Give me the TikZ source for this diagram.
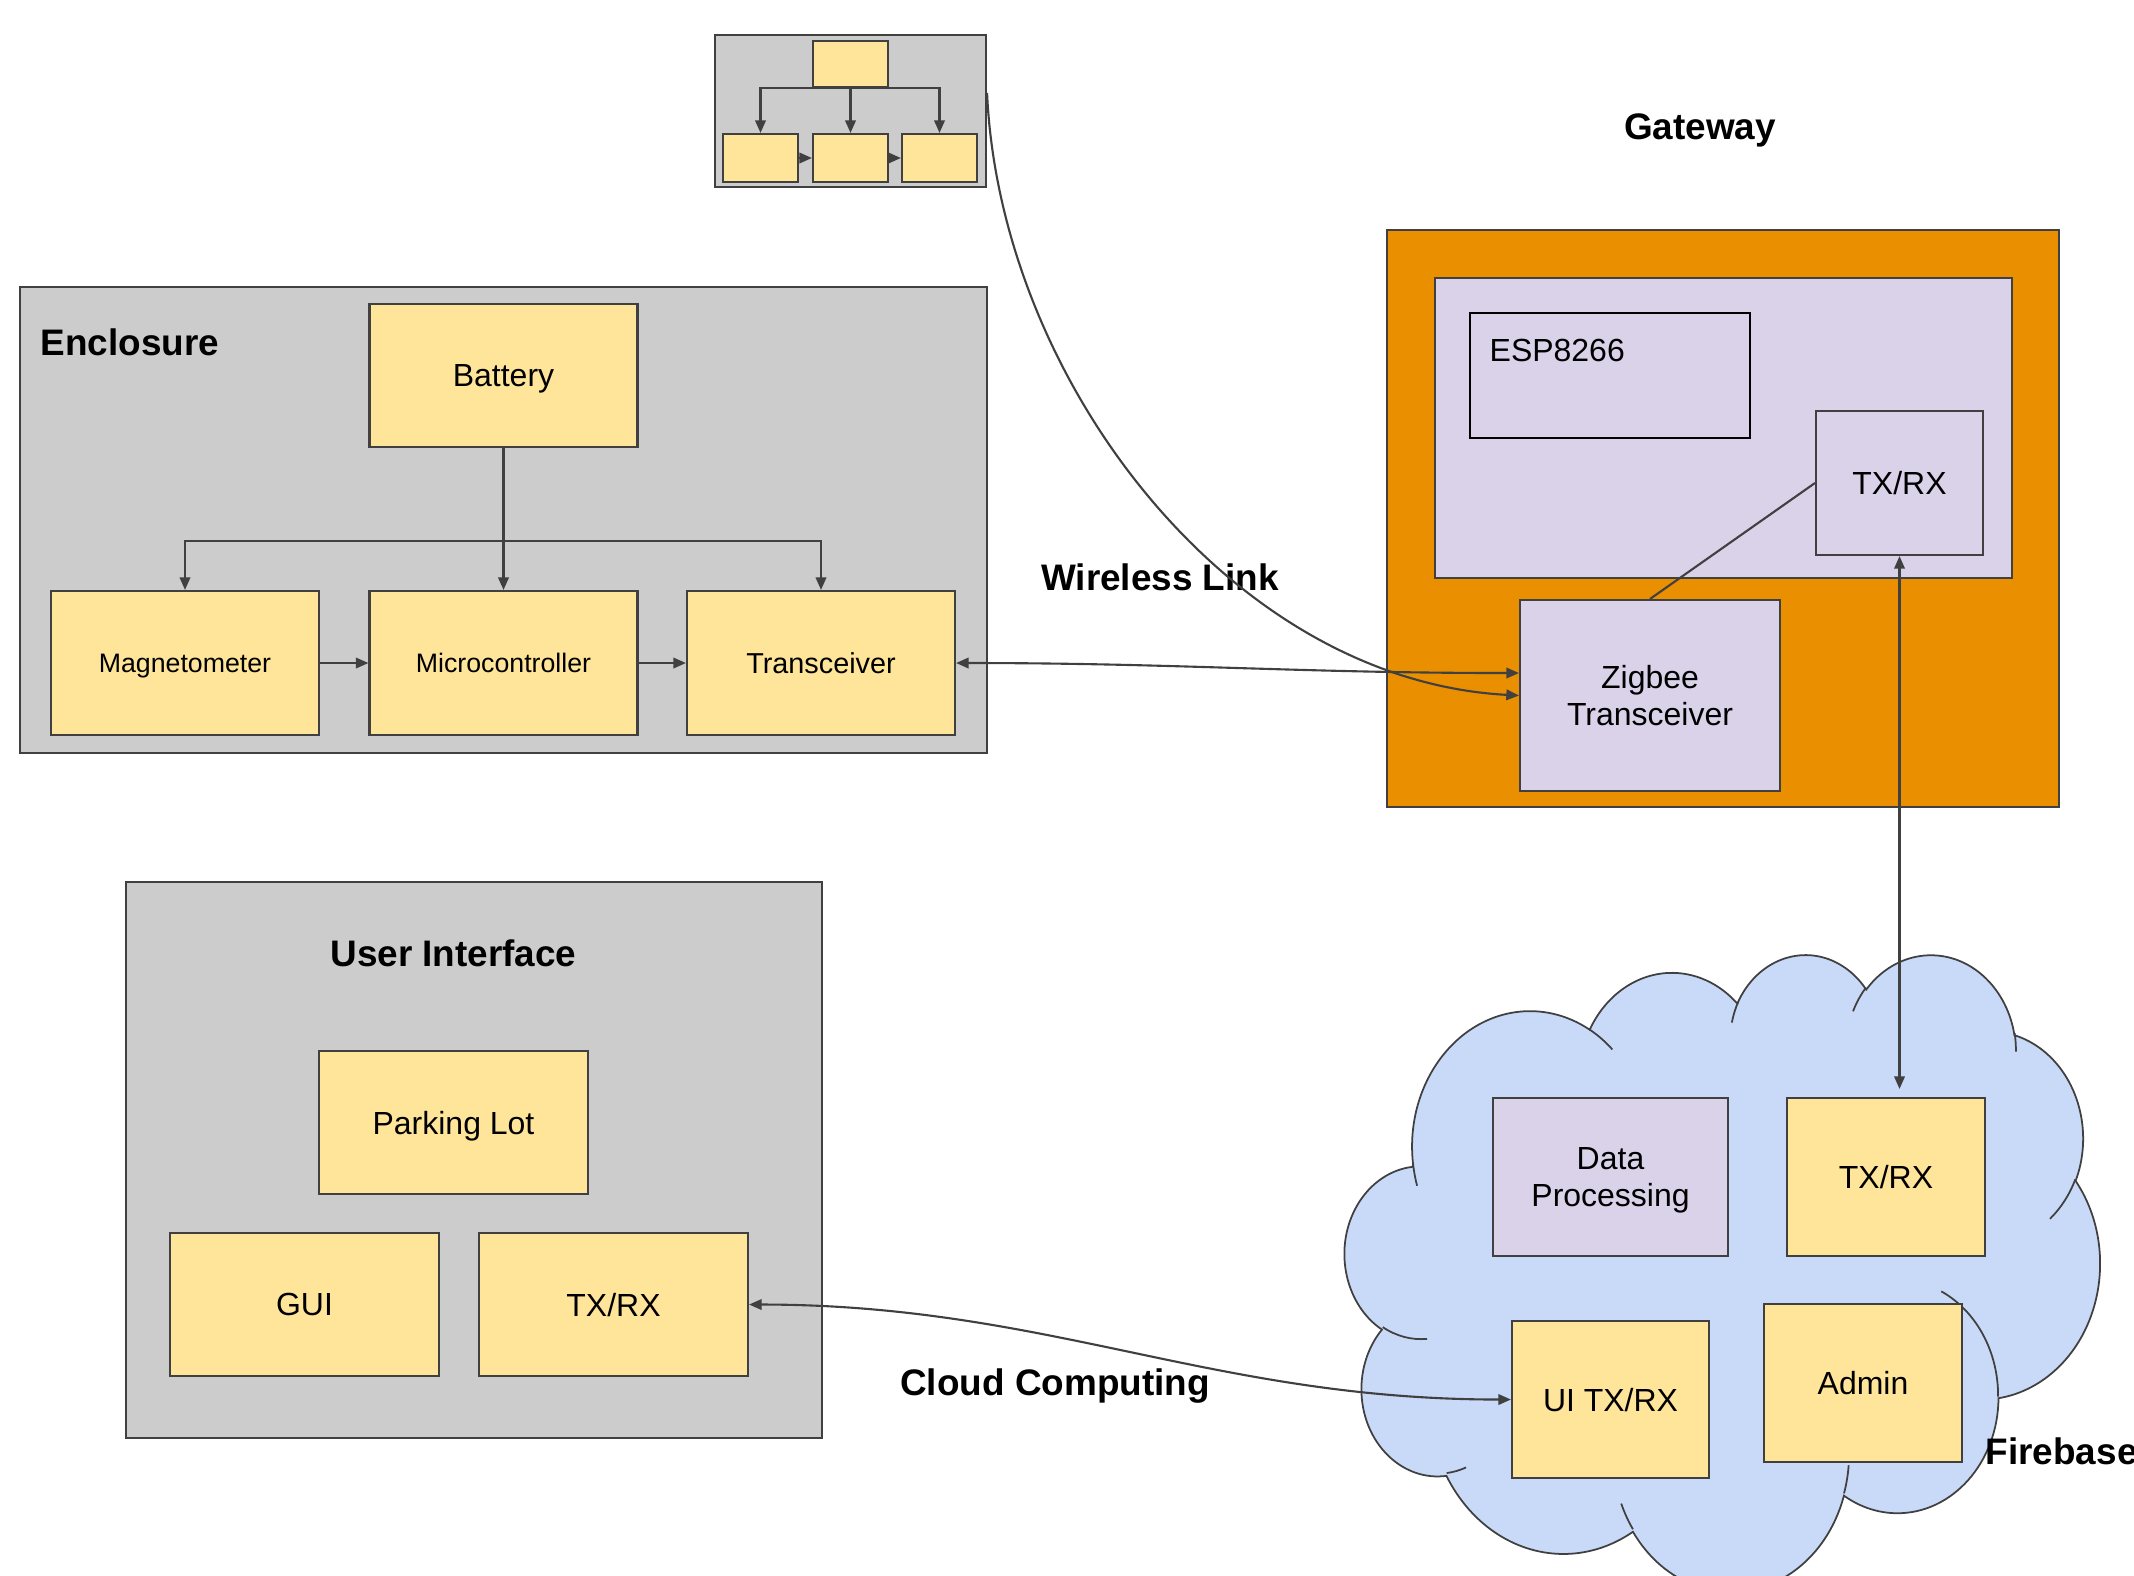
\documentclass[tikz,border=0pt]{standalone}
\usepackage{fontspec}
\setmainfont{Liberation Sans}
\usepackage{tikz}
\usepackage{xcolor}
\usetikzlibrary{arrows.meta,calc}
\definecolor{linegray}{HTML}{404040}
\definecolor{panelgray}{HTML}{CCCCCC}
\definecolor{boxyellow}{HTML}{FFE599}
\definecolor{lavender}{HTML}{D9D2E9}
\definecolor{gworange}{HTML}{EA8F00}
\definecolor{cloudblue}{HTML}{C9DAF8}
\newcommand{\lblfont}{\fontsize{9.1}{10.6}\selectfont}
\newcommand{\smlfont}{\fontsize{7.6}{9}\selectfont}
\newcommand{\hdfont}{\bfseries\fontsize{10.5}{12}\selectfont}
% one arc of the cloud outline: radii, start angle, sweep (angles seen from the centre)
\newcommand{\cloudarc}[4]{arc[x radius=#1, y radius=#2,
  start angle={atan2(#1*sin(#3),#2*cos(#3))+360*round((#3-atan2(#1*sin(#3),#2*cos(#3)))/360)},
  end angle={atan2(#1*sin(#3+#4),#2*cos(#3+#4))+360*round((#3+#4-atan2(#1*sin(#3+#4),#2*cos(#3+#4)))/360)}]}

\begin{document}
\begin{tikzpicture}[x=1cm, y=-1cm, >={Triangle[length=3.6pt,width=3pt]},
    block/.style={draw=linegray, line width=0.6pt, fill=boxyellow, inner sep=0pt, align=center, text depth=0pt, font=\lblfont},
    chip/.style={block, fill=lavender},
    panel/.style={draw=linegray, line width=0.6pt, fill=panelgray, inner sep=0pt},
    heading/.style={font=\hdfont, inner sep=0pt, text depth=0pt},
    wire/.style={draw=linegray, line width=0.6pt}]
    \useasboundingbox (0,0) rectangle (21.34,15.75);

    % Sensor layout thumbnail
    \node[panel, minimum width=2.71cm, minimum height=1.52cm] (icon) at (8.505,1.11) {};
    \node[block, minimum width=0.75cm, minimum height=0.46cm] (itop) at (8.505,0.64) {};
    \node[block, minimum width=0.75cm, minimum height=0.48cm] (ia) at (7.605,1.58) {};
    \node[block, minimum width=0.75cm, minimum height=0.48cm] (ib) at (8.505,1.58) {};
    \node[block, minimum width=0.75cm, minimum height=0.48cm] (ic) at (9.395,1.58) {};
    \draw[wire,->] (itop) -- (ib);
    \draw[wire,->] (itop.south) -| (ia);
    \draw[wire,->] (itop.south) -| (ic);
    \draw[wire,->] (ia) -- (ib);
    \draw[wire,->] (ib) -- (ic);

    % Enclosure
    \node[panel, minimum width=9.67cm, minimum height=4.66cm] (enc) at (5.035,5.20) {};
    \node[heading, anchor=west] (enclbl) at (0.40,3.42) {Enclosure};
    \node[block, minimum width=2.68cm, minimum height=1.43cm] (bat) at (5.035,3.755) {Battery};
    \node[block, minimum width=2.68cm, minimum height=1.44cm, font=\smlfont] (mag) at (1.85,6.63) {Magnetometer};
    \node[block, minimum width=2.68cm, minimum height=1.44cm, font=\smlfont] (mcu) at (5.035,6.63) {Microcontroller};
    \node[block, minimum width=2.68cm, minimum height=1.44cm, font=\fontsize{8.2}{10}\selectfont] (trx) at (8.21,6.63) {Transceiver};
    \coordinate (split) at (5.035,5.41);
    \draw[wire,->] (bat) -- (mcu);
    \draw[wire,->] (split) -| (mag);
    \draw[wire,->] (split) -| (trx);
    \draw[wire,->] (mag) -- (mcu);
    \draw[wire,->] (mcu) -- (trx);

    % Gateway
    \node[heading] (gwlbl) at (17.00,1.27) {Gateway};
    \node[draw=linegray, line width=0.6pt, fill=gworange, minimum width=6.72cm, minimum height=5.77cm] (gw) at (17.23,5.185) {};
    \node[chip, minimum width=5.77cm, minimum height=3.00cm] (espbg) at (17.235,4.28) {};
    \node[draw=black, line width=0.6pt, minimum width=2.80cm, minimum height=1.25cm] (esp) at (16.10,3.755) {};
    \node[anchor=west, inner sep=0pt, font=\lblfont] (esplbl) at ([xshift=0.2cm,yshift=0.255cm]esp.west) {ESP8266};
    \node[chip, minimum width=1.67cm, minimum height=1.44cm] (gwtx) at (18.995,4.83) {TX/RX};
    \node[chip, minimum width=2.60cm, minimum height=1.91cm] (zig) at (16.50,6.955) {Zigbee\\Transceiver};
    \draw[wire] (gwtx.west) -- (zig.north);

    % Wireless link
    \node[heading] (wllbl) at (11.60,5.77) {Wireless Link};
    \draw[wire,<->] (trx.east) to[out=0,in=180] ([yshift=0.225cm]zig.west);
    \draw[wire,->] ([yshift=0.18cm]icon.east) .. controls (10.00,3.80) and (12.30,6.80) .. (zig.west);

    % Firebase cloud
    \begin{scope}[shift={(13.45,9.53)}, x=0.017477cm, y=-0.014745cm]
        \draw[wire, line width=0.5pt, fill=cloudblue] (39.00,143.70)
            \cloudarc{67.53}{91.90}{-190.4875}{123.7805}
            \cloudarc{53.33}{72.67}{-144.1024}{89.9452}
            \cloudarc{43.65}{59.45}{-145.8079}{99.7230}
            \cloudarc{48.57}{65.95}{-130.9861}{117.2417}
            \cloudarc{53.33}{72.73}{-78.7089}{109.0269}
            \cloudarc{67.75}{92.20}{-46.2673}{130.2690}
            \cloudarc{57.85}{78.67}{0.6250}{114.0333}
            \cloudarc{67.52}{92.15}{22.4516}{115.1726}
            \cloudarc{77.20}{105.43}{66.2426}{75.7110}
            \cloudarc{43.60}{59.18}{-274.9421}{146.7356}
            \cloudarc{43.45}{59.45}{-246.8285}{152.5189} -- cycle;
        \draw[wire, line width=0.5pt]
            (46.93,261.77) \cloudarc{43.45}{59.45}{86.742}{26.4295}
            (69.28,348.99) \cloudarc{43.60}{59.18}{73.6105}{11.4475}
            (164.78,390.90) \cloudarc{67.52}{92.15}{137.6242}{14.0811}
            (288.27,347.51) \cloudarc{67.52}{92.15}{6.4533}{15.9984}
            (341.29,229.54) \cloudarc{57.85}{78.67}{-70.2924}{70.9174}
            (417.98,153.54) \cloudarc{53.33}{72.73}{30.318}{27.7515}
            (383.24,54.26) \cloudarc{48.57}{65.95}{-13.7443}{14.8589}
            (290.78,39.52) \cloudarc{48.57}{65.95}{-149.1815}{18.1954}
            (221.41,47.20) \cloudarc{43.65}{59.45}{-163.4943}{17.6864}
            (140.00,51.92) \cloudarc{67.53}{91.90}{-66.707}{12.3194}
            (41.27,157.89) \cloudarc{67.53}{91.90}{157.6544}{11.8582};
    \end{scope}
    \node[chip, minimum width=2.35cm, minimum height=1.58cm] (dp) at (16.105,11.77) {Data\\Processing};
    \node[block, minimum width=1.98cm, minimum height=1.58cm] (ctx) at (18.86,11.77) {TX/RX};
    \node[block, minimum width=1.97cm, minimum height=1.57cm] (uitx) at (16.105,13.995) {UI TX/RX};
    \node[block, minimum width=1.98cm, minimum height=1.58cm] (adm) at (18.63,13.83) {Admin};
    \node[heading, anchor=west] (fblbl) at (19.85,14.51) {Firebase};
    \draw[wire,<->,shorten >=0.08cm] (gwtx.south) -- (gwtx.south |- ctx.north);

    % User interface
    \node[panel, minimum width=6.96cm, minimum height=5.56cm] (ui) at (4.74,11.60) {};
    \node[heading] (uilbl) at (4.535,9.53) {User Interface};
    \node[block, minimum width=2.69cm, minimum height=1.43cm] (park) at (4.535,11.225) {Parking Lot};
    \node[block, minimum width=2.69cm, minimum height=1.43cm] (gui) at (3.045,13.045) {GUI};
    \node[block, minimum width=2.69cm, minimum height=1.43cm] (uirx) at (6.135,13.045) {TX/RX};

    % Cloud link
    \node[heading] (cclbl) at (10.55,13.82) {Cloud Computing};
    \draw[wire,<->] (uirx.east) to[out=0,in=180] (uitx.west);
\end{tikzpicture}
\end{document}
